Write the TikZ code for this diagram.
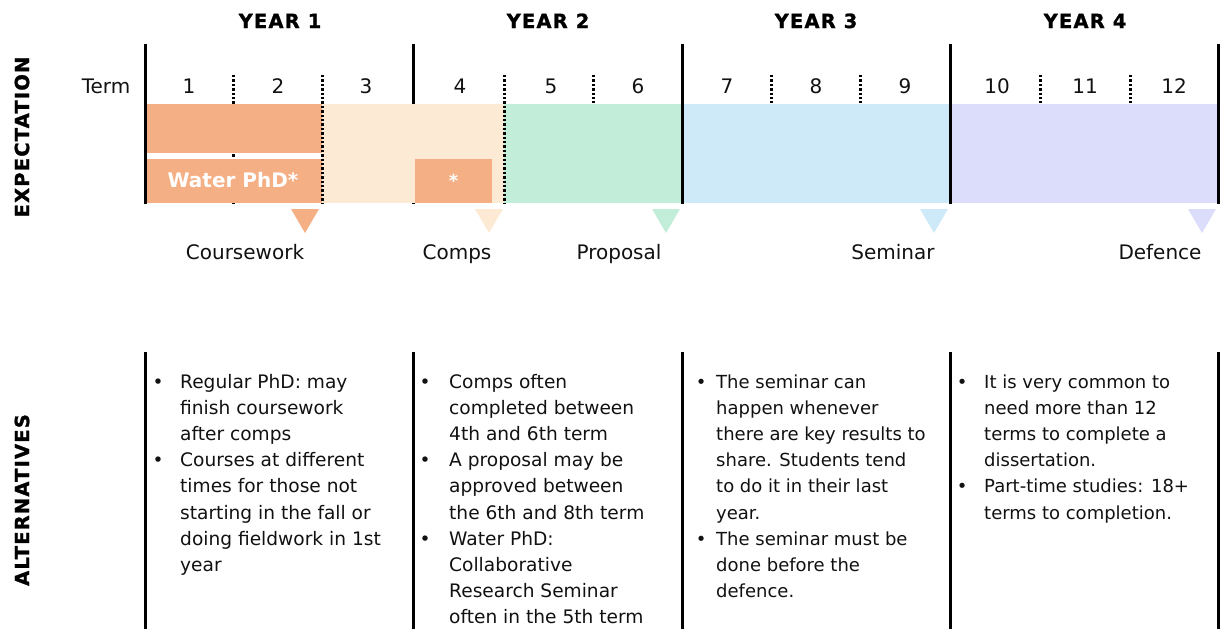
\documentclass[tikz,border=0pt]{standalone}
\usepackage{fontspec}
\setmainfont{DejaVu Sans}
\newfontfamily\headfont{DejaVu Sans Bold}[LetterSpace=6,FakeBold=1.2]
\newfontfamily\boldfont{DejaVu Sans Bold}

\definecolor{cwork}{HTML}{F5AF85}
\definecolor{compsc}{HTML}{FDEAD4}
\definecolor{propc}{HTML}{C2EED9}
\definecolor{semic}{HTML}{CEEAF9}
\definecolor{defc}{HTML}{DCDDFB}
\definecolor{ink}{HTML}{111111}

\newcommand\bul[1]{\makebox[#1]{\textbullet}}

\begin{document}
\begin{tikzpicture}[x=1pt,y=-1pt,
  yearline/.style={line width=3pt,draw=black},
  termdiv/.style={line width=3pt,draw=black,dash pattern=on 2.4pt off 2pt},
  bar/.style={inner sep=0pt,outer sep=0pt,anchor=north west,draw=none},
  heading/.style={font=\headfont\fontsize{19.5}{22}\selectfont,text=black},
  termnum/.style={font=\fontsize{20}{24}\selectfont,text=ink,anchor=base},
  milestone/.style={font=\fontsize{20}{24}\selectfont,text=ink,anchor=base},
  notes/.style={font=\fontsize{18.6}{26.2}\selectfont,text=ink,anchor=base west,inner sep=0pt},
  notessm/.style={notes,font=\fontsize{18}{26.2}\selectfont}]
\useasboundingbox (0,0) rectangle (1222,629);

% side headings
\node[heading,rotate=90] (exp) at (22,137) {EXPECTATION};
\node[heading,rotate=90] (alt) at (22,500) {ALTERNATIVES};

% year headings
\node[heading,anchor=base] (y1) at (280,28) {YEAR 1};
\node[heading,anchor=base] (y2) at (548,28) {YEAR 2};
\node[heading,anchor=base] (y3) at (816,28) {YEAR 3};
\node[heading,anchor=base] (y4) at (1085,28) {YEAR 4};

% term row
\node[termnum] (term) at (106,93) {Term};
\foreach \n/\x in {1/189,2/278,3/366,4/460,5/551,6/638,7/727,8/816,9/905,10/997,11/1085,12/1174}
  \node[termnum] (t\n) at (\x,93) {\n};

% dividers lying under the bars
\draw[termdiv] (233,75) -- (233,203);
\draw[yearline] (413,44) -- (413,204);

% expectation bars
\node[bar,fill=cwork,minimum width=177pt,minimum height=49pt] (cw1) at (145,104) {};
\node[bar,fill=cwork,minimum width=177pt,minimum height=44pt] (cw2) at (145,159) {};
\node[font=\boldfont\fontsize{20}{24}\selectfont,text=white,anchor=base] (water) at (233,187) {Water PhD*};
\node[bar,fill=compsc,minimum width=182pt,minimum height=99pt] (comps) at (322,104) {};
\node[bar,fill=cwork,minimum width=77pt,minimum height=44pt] (star) at (415,159) {};
\node[font=\boldfont\fontsize{18}{22}\selectfont,text=white] at (star.center) {*};
\node[bar,fill=propc,minimum width=178pt,minimum height=99pt] (prop) at (504,104) {};
\node[bar,fill=semic,minimum width=268pt,minimum height=99pt] (sem) at (682,104) {};
\node[bar,fill=defc,minimum width=268pt,minimum height=99pt] (def) at (950,104) {};

% term dividers and year lines on top
\draw[termdiv] (322,75) -- (322,203);
\draw[termdiv] (504,75) -- (504,203);
\foreach \x in {593,771,860,1040,1130}
  \draw[termdiv] (\x,75) -- (\x,103);
\foreach \x in {145,682,950,1218}
  \draw[yearline] (\x,44) -- (\x,204);

% milestone markers
\foreach \c/\x in {cwork/305,compsc/489,propc/666,semic/934,defc/1202}
  \fill[\c] (\x-14,209) -- (\x+14,209) -- (\x,233) -- cycle;
\node[milestone] (m1) at (245,259) {Coursework};
\node[milestone] (m2) at (457,259) {Comps};
\node[milestone] (m3) at (619,259) {Proposal};
\node[milestone] (m4) at (893,259) {Seminar};
\node[milestone] (m5) at (1160,259) {Defence};

% alternatives columns
\foreach \x in {145,413,682,950,1218}
  \draw[yearline] (\x,352) -- (\x,629);

\node[notes] (n1) at (150,388) {\begin{tabular}[t]{@{}l@{\hspace{14pt}}l@{}}
\bul{16pt} & Regular PhD: may\\
 & finish coursework\\
 & after comps\\
\bul{16pt} & Courses at different\\
 & times for those not\\
 & starting in the fall or\\
 & doing fieldwork in 1st\\
 & year
\end{tabular}};

\node[notes] (n2) at (417,388) {\begin{tabular}[t]{@{}l@{\hspace{16pt}}l@{}}
\bul{16pt} & Comps often\\
 & completed between\\
 & 4th and 6th term\\
\bul{16pt} & A proposal may be\\
 & approved between\\
 & the 6th and 8th term\\
\bul{16pt} & Water PhD:\\
 & Collaborative\\
 & Research Seminar\\
 & often in the 5th term
\end{tabular}};

\node[notessm] (n3) at (695,388) {\begin{tabular}[t]{@{}l@{\hspace{9pt}}l@{}}
\bul{12pt} & The seminar can\\
 & happen whenever\\
 & there are key results to\\
 & share. Students tend\\
 & to do it in their last\\
 & year.\\
\bul{12pt} & The seminar must be\\
 & done before the\\
 & defence.
\end{tabular}};

\node[notessm] (n4) at (954,388) {\begin{tabular}[t]{@{}l@{\hspace{14pt}}l@{}}
\bul{16pt} & It is very common to\\
 & need more than 12\\
 & terms to complete a\\
 & dissertation.\\
\bul{16pt} & Part-time studies: 18+\\
 & terms to completion.
\end{tabular}};
\end{tikzpicture}
\end{document}
